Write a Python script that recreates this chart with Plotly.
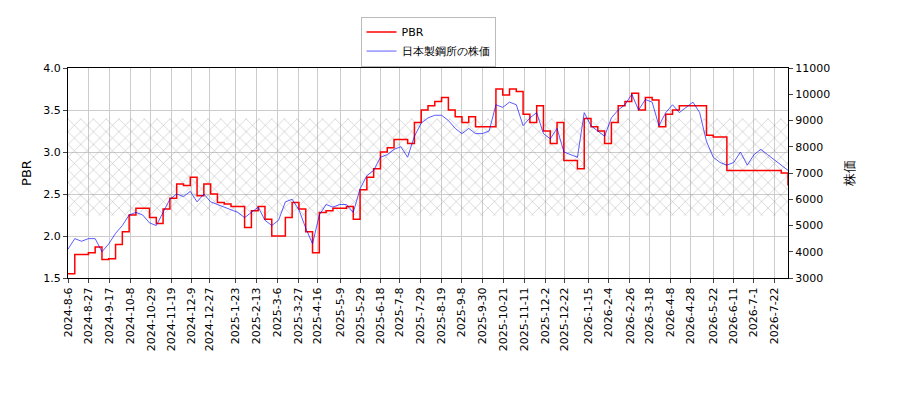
import pandas as pd
import plotly.graph_objects as go

# --- weekly values ---
pbr = [1.55, 1.78, 1.78, 1.8, 1.87, 1.72, 1.73, 1.9,
       2.05, 2.25, 2.33, 2.33, 2.22, 2.15, 2.32, 2.45, 2.62,
       2.6, 2.7, 2.48, 2.62, 2.5, 2.4, 2.38, 2.35, 2.35, 2.1,
       2.3, 2.35, 2.2, 2.0, 2.0, 2.22, 2.4, 2.32, 2.05,
       1.8, 2.28, 2.3, 2.33, 2.33, 2.35, 2.2, 2.55, 2.7,
       2.8, 3.0, 3.05, 3.15, 3.15, 3.1, 3.35, 3.5, 3.55,
       3.6, 3.65, 3.5, 3.42, 3.35, 3.42, 3.3, 3.3,
       3.3, 3.75, 3.68, 3.75, 3.72, 3.45, 3.35, 3.55, 3.25,
       3.1, 3.35, 2.9, 2.9, 2.8, 3.4, 3.3, 3.25, 3.1, 3.35,
       3.55, 3.6, 3.7, 3.5, 3.65, 3.62, 3.3, 3.45, 3.5,
       3.55, 3.55, 3.55, 3.55, 3.2, 3.18, 3.18, 2.78, 2.78,
       2.78, 2.78, 2.78, 2.78, 2.78, 2.78, 2.75, 2.6]
price = [4100, 4500, 4400, 4500, 4500, 4000, 4300, 4700,
         5000, 5400, 5500, 5400, 5100, 5000, 5500, 6000, 6200,
         6100, 6300, 5900, 6200, 5900, 5800, 5700, 5600, 5500, 5300,
         5500, 5700, 5200, 5000, 5200, 5900, 6000, 5600, 4900,
         4300, 5400, 5800, 5700, 5800, 5800, 5500, 6400, 6900,
         7100, 7600, 7700, 7900, 8000, 7600, 8400, 8900, 9100,
         9200, 9200, 9000, 8700, 8500, 8700, 8500, 8500,
         8600, 9600, 9500, 9700, 9600, 8800, 9100, 9300, 8500,
         8300, 8700, 7800, 7700, 7600, 9300, 8800, 8600, 8400, 9100,
         9400, 9600, 10000, 9400, 9800, 9700, 8800, 9300, 9600,
         9300, 9500, 9700, 9300, 8200, 7600, 7400, 7300, 7400,
         7800, 7300, 7700, 7900, 7700, 7500, 7300, 7100]
band = [2.24, 3.4]
tick_labels = ["2024-8-6", "2024-8-27", "2024-9-17", "2024-10-8", "2024-10-29",
               "2024-11-19", "2024-12-9", "2024-12-27", "2025-1-23", "2025-2-13",
               "2025-3-6", "2025-3-27", "2025-4-16", "2025-5-9", "2025-5-29",
               "2025-6-18", "2025-7-8", "2025-7-29", "2025-8-19", "2025-9-8",
               "2025-9-30", "2025-10-21", "2025-11-11", "2025-12-2", "2025-12-22",
               "2026-1-15", "2026-2-4", "2026-2-26", "2026-3-18", "2026-4-8",
               "2026-4-28", "2026-5-22", "2026-6-11", "2026-7-1", "2026-7-22"]

dates = pd.date_range("2024-08-06", "2026-08-05", periods=len(pbr))
tick_dates = pd.to_datetime(tick_labels)

fig = go.Figure()

# hatched range band
x0, x1 = dates[0], dates[-1]
fig.add_trace(go.Scatter(
    x=[x0, x1, x1, x0, x0], y=[band[0], band[0], band[1], band[1], band[0]],
    fill="toself", mode="lines", line=dict(width=0),
    fillcolor="rgba(0,0,0,0)",
    fillpattern=dict(shape="x", fgcolor="#777777", bgcolor="rgba(0,0,0,0)",
                     size=9, solidity=0.12),
    showlegend=False, hoverinfo="skip"))

fig.add_trace(go.Scatter(x=dates, y=pbr, name="PBR", mode="lines",
                         line=dict(color="red", width=1.5, shape="hv")))
fig.add_trace(go.Scatter(x=dates, y=price, name="日本製鋼所の株価", mode="lines",
                         line=dict(color="blue", width=0.8), opacity=0.8,
                         yaxis="y2"))

fig.update_layout(
    width=900, height=400,
    margin=dict(l=60, r=120, t=60, b=130, autoexpand=False),
    plot_bgcolor="white", paper_bgcolor="white",
    font=dict(family="DejaVu Sans", size=11, color="black"),
    legend=dict(x=0.5, y=1.245, xanchor="center", yanchor="top",
                bordercolor="#bbbbbb", borderwidth=1),
    xaxis=dict(range=[x0, x1], tickvals=tick_dates, ticktext=tick_labels,
               tickangle=-90, showgrid=True, gridcolor="#cccccc",
               showline=True, linecolor="black", mirror=True,
               ticks="outside", ticklen=4),
    yaxis=dict(title=dict(text="PBR", standoff=8), range=[1.5, 4.0], dtick=0.5,
               tickformat=".1f", showgrid=True, gridcolor="#cccccc",
               showline=True, linecolor="black", ticks="outside", ticklen=4,
               zeroline=False),
    yaxis2=dict(title="株価", overlaying="y", side="right",
                range=[3000, 11000], dtick=1000, tickformat="d", showgrid=False,
                showline=True, linecolor="black", ticks="outside", ticklen=4,
                zeroline=False),
)

fig.write_html("out.html")
